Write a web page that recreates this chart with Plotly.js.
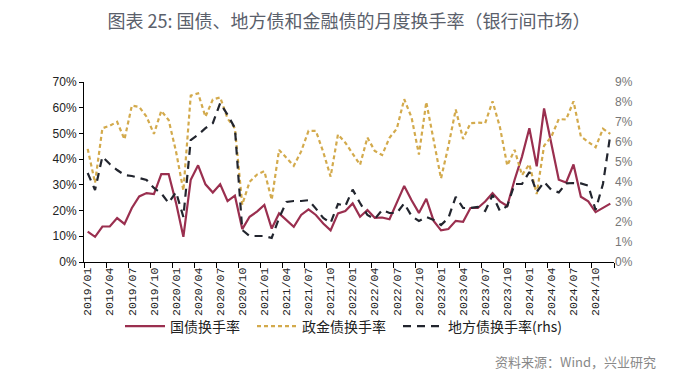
<!DOCTYPE html>
<html>
<head>
<meta charset="utf-8">
<script src="https://cdn.plot.ly/plotly-3.0.1.min.js"></script>
<style>html,body{margin:0;padding:0;background:#fff}#chart{width:700px;height:378px}</style>
</head>
<body>
<div id="chart"></div>
<script>
// ---- data ----
const startYear = 2019;
const nMonths = 72;
const tickLabels = ['2019/01','2019/04','2019/07','2019/10','2020/01','2020/04','2020/07','2020/10',
  '2021/01','2021/04','2021/07','2021/10','2022/01','2022/04','2022/07','2022/10',
  '2023/01','2023/04','2023/07','2023/10','2024/01','2024/04','2024/07','2024/10'];

// 国债换手率 (%)
const govBond = [11.8,9.8,13.8,13.8,17.1,14.8,21.0,25.5,26.8,26.4,34.2,34.2,
  23.0,9.8,32.0,37.6,30.2,27.0,30.2,23.7,25.8,12.8,17.6,19.6,
  22.2,13.0,18.9,16.2,13.7,18.3,20.5,18.3,15.0,12.3,18.9,19.8,
  22.8,17.6,20.2,17.2,17.3,16.6,23.0,29.6,24.0,19.1,24.6,16.0,
  12.3,12.8,16.0,15.6,21.0,21.0,23.5,26.8,23.6,21.8,32.0,41.0,
  52.0,37.2,59.7,46.0,32.0,30.9,37.9,25.4,23.6,19.4,21.0,22.7];
// 政金债换手率 (%)
const policyBond = [44.0,30.8,52.0,53.0,54.5,47.7,60.8,60.3,56.5,49.8,58.8,55.2,
  43.0,27.8,64.7,65.6,56.5,63.2,64.0,55.8,52.0,22.3,31.2,34.0,
  35.3,24.2,43.6,40.3,37.4,43.0,51.0,51.0,42.8,33.2,49.6,46.4,
  42.2,37.8,48.4,43.2,41.6,48.3,51.9,63.3,56.2,41.8,62.2,47.0,
  32.5,45.0,59.3,47.8,54.0,54.2,54.0,62.5,52.5,37.5,43.6,33.8,
  38.0,26.4,45.2,48.8,55.6,55.4,62.5,48.8,46.6,44.6,51.8,49.8];
// 地方债换手率 (%, rhs)
const localBond = [4.45,3.6,5.27,4.9,4.6,4.35,4.3,4.2,4.1,3.7,3.43,2.95,
  3.5,2.25,6.1,6.36,6.69,6.94,7.95,7.36,6.7,1.6,1.3,1.3,
  1.3,1.2,2.2,3.0,3.05,3.05,3.09,2.67,2.2,1.95,2.9,2.8,
  3.62,2.95,2.35,2.15,2.6,2.45,2.45,2.93,2.3,2.05,2.25,2.1,
  1.85,2.2,3.26,2.7,2.7,2.76,2.55,3.35,2.55,2.8,3.9,3.9,
  4.5,3.5,4.0,3.6,3.48,3.93,3.95,3.93,3.82,2.6,3.9,6.36];

const seriesNames = ['国债换手率','政金债换手率','地方债换手率(rhs)'];

// ---- derived ----
const monthLabels = [];
for (let i = 0; i < nMonths; i++) {
  const y = startYear + Math.floor(i / 12);
  const m = (i % 12) + 1;
  monthLabels.push(y + '/' + (m < 10 ? '0' + m : m));
}
const xIdx = monthLabels.map((_, i) => i);
const labelIdx = tickLabels.map(l => monthLabels.indexOf(l));
const boundaries = labelIdx.map(v => v - 0.5).concat([nMonths - 0.5]);
const xRange = [-0.5, nMonths - 0.5];

const traces = [
  {x: xIdx, y: govBond, name: seriesNames[0], type: 'scatter', mode: 'lines',
   line: {color: '#9a2f4f', width: 2.2}, xaxis: 'x', yaxis: 'y', legend: 'legend'},
  {x: xIdx, y: policyBond, name: seriesNames[1], type: 'scatter', mode: 'lines',
   line: {color: '#d3aa4c', width: 2.2, dash: '4px,3px'}, xaxis: 'x', yaxis: 'y', legend: 'legend2'},
  {x: xIdx, y: localBond, name: seriesNames[2], type: 'scatter', mode: 'lines',
   line: {color: '#22252e', width: 2.2, dash: '8px,6px'}, xaxis: 'x2', yaxis: 'y2', legend: 'legend3'}
];

const legendFont = {family: '"Noto Sans CJK SC", sans-serif', size: 14, color: '#222'};
function legendAt(px) {
  return {orientation: 'h', x: (px - 84) / 530, xanchor: 'left', y: -0.27, yanchor: 'top',
    font: legendFont, itemwidth: 40, bgcolor: 'rgba(0,0,0,0)'};
}

const layout = {
  width: 700, height: 378,
  margin: {l: 84, r: 86, t: 82, b: 116},
  paper_bgcolor: '#fff', plot_bgcolor: '#fff',
  showlegend: true,
  title: {text: '图表 25: 国债、地方债和金融债的月度换手率（银行间市场）',
    x: 0.5, xref: 'paper', xanchor: 'center', y: 1 - 22 / 378, yref: 'container', yanchor: 'middle',
    font: {family: '"Noto Sans CJK SC", sans-serif', size: 18, color: '#5a606b', weight: 'normal'}},
  xaxis: {range: xRange, tickmode: 'array', tickvals: labelIdx, ticktext: tickLabels,
    tickangle: -90, ticks: '', showline: true, linecolor: '#000', linewidth: 1,
    showgrid: false, zeroline: false, fixedrange: true,
    tickfont: {family: '"Liberation Mono", monospace', size: 11.5, color: '#222'}},
  xaxis2: {range: xRange, overlaying: 'x', anchor: 'y2', tickmode: 'array', tickvals: boundaries,
    ticks: 'outside', ticklen: 5, tickcolor: '#000', tickwidth: 1, showticklabels: false,
    showgrid: false, zeroline: false, showline: false},
  yaxis: {range: [0, 70], dtick: 10, ticksuffix: '%', ticks: 'outside', ticklen: 4,
    tickcolor: '#000', showline: true, linecolor: '#000', linewidth: 1,
    showgrid: false, zeroline: false,
    tickfont: {family: '"Liberation Sans", Arial, sans-serif', size: 12, color: '#222'}},
  yaxis2: {range: [0, 9], dtick: 1, ticksuffix: '%', overlaying: 'y', side: 'right', anchor: 'x2',
    ticks: '', showline: false, showgrid: false, zeroline: false,
    tickfont: {family: '"Liberation Sans", Arial, sans-serif', size: 12, color: '#777'}},
  legend: legendAt(120),
  legend2: legendAt(252),
  legend3: legendAt(398),
  annotations: [{text: '资料来源：Wind，兴业研究', xref: 'paper', yref: 'paper',
    x: (493 - 84) / 530, y: -0.555, xanchor: 'left', yanchor: 'middle', showarrow: false,
    font: {family: '"Noto Sans CJK SC", sans-serif', size: 13, color: '#888'}}]
};

Plotly.newPlot('chart', traces, layout, {displayModeBar: false, staticPlot: true});
</script>
</body>
</html>
